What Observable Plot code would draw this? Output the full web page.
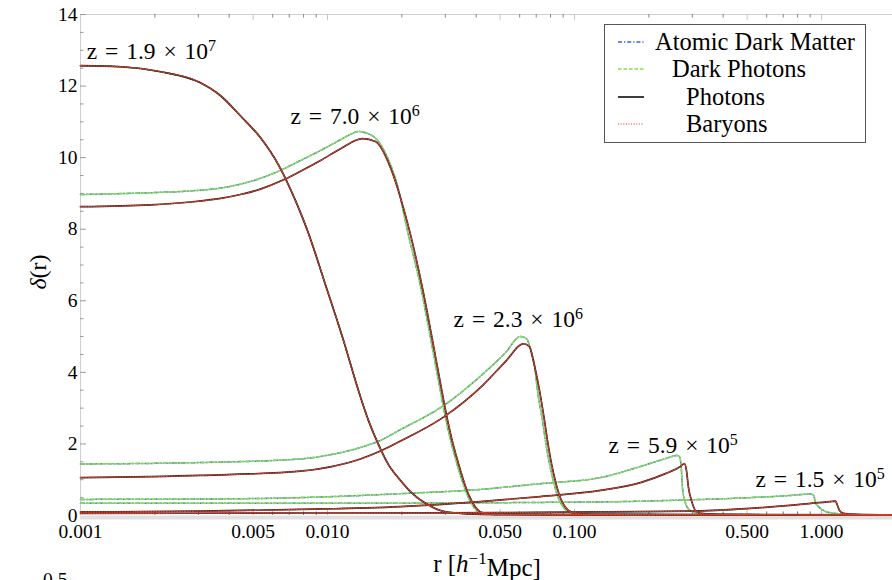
<!DOCTYPE html>
<html>
<head>
<meta charset="utf-8">
<script src="https://cdn.jsdelivr.net/npm/d3@7"></script>
<script src="https://cdn.jsdelivr.net/npm/@observablehq/plot@0.6"></script>
<style>
  html, body { margin: 0; padding: 0; background: #fff; }
  body { width: 892px; height: 580px; overflow: hidden; position: relative; font-family: "Liberation Serif", "DejaVu Serif", serif; }
  #chart { position: absolute; left: 0; top: 0; }
  #legend { position: absolute; left: 604px; top: 24px; width: 260px; height: 117px; border: 1px solid #555; background: #fff; }
  #legend .item { position: absolute; font-size: 24.5px; line-height: 1; white-space: nowrap; color: #000; }
  #legend svg { position: absolute; left: 13px; }
  #next-panel { position: absolute; left: 43px; top: 570px; font-size: 19.5px; line-height: 1; }
</style>
</head>
<body>
<div id="chart"></div>
<div id="legend"></div>
<div id="next-panel">0.5</div>
<script>
// Density contrast profiles δ(r) at five redshifts.
const redshifts = ["1.9 × 10^7", "7.0 × 10^6", "2.3 × 10^6", "5.9 × 10^5", "1.5 × 10^5"];

// z = 1.9e7: dark and baryonic sectors coincide
const r_z1 = [0.001, 0.00145, 0.00211, 0.00306, 0.00369, 0.00444, 0.00535, 0.00633, 0.00742, 0.0083, 0.00981, 0.01161, 0.01335, 0.01466, 0.01609, 0.01766, 0.01975, 0.02209, 0.02494, 0.02868, 0.03456, 0.0457, 0.158];
const d_z1 = [12.57, 12.54, 12.40, 12.09, 11.73, 11.17, 10.56, 9.80, 8.80, 7.96, 6.45, 4.89, 3.49, 2.65, 1.98, 1.42, 0.98, 0.61, 0.34, 0.14, 0.06, 0.03, 0.015];

// z = 7.0e6
const r_z2_dark = [0.001, 0.00192, 0.00279, 0.00369, 0.00444, 0.00535, 0.00633, 0.00778, 0.00937, 0.01129, 0.01239, 0.01335, 0.01521, 0.0175, 0.0192, 0.02108, 0.02402, 0.02612, 0.02814, 0.02976, 0.03118, 0.03298, 0.03487, 0.03688, 0.039, 0.04164, 0.04656, 0.5016];
const d_z2_dark = [8.97, 9.02, 9.07, 9.15, 9.26, 9.42, 9.62, 9.92, 10.2, 10.5, 10.65, 10.73, 10.61, 10.0, 9.22, 7.96, 6.28, 4.97, 3.77, 2.88, 2.23, 1.59, 1.03, 0.56, 0.25, 0.08, 0.03, 0.015];
const r_z2_bar = [0.001, 0.00192, 0.00279, 0.00369, 0.00444, 0.00535, 0.00664, 0.00778, 0.00937, 0.01129, 0.01386, 0.01564, 0.01799, 0.01975, 0.02148, 0.02436, 0.02649, 0.02853, 0.03018, 0.03162, 0.03344, 0.03536, 0.0374, 0.03955, 0.04222, 0.04721, 0.5016];
const d_z2_bar = [8.63, 8.68, 8.76, 8.86, 8.97, 9.12, 9.38, 9.62, 9.92, 10.25, 10.53, 10.45, 9.72, 8.88, 7.96, 6.28, 4.97, 3.77, 2.88, 2.23, 1.59, 1.03, 0.56, 0.25, 0.08, 0.03, 0.015];

// z = 2.3e6
const r_z3_dark = [0.001, 0.00306, 0.00778, 0.01028, 0.0136, 0.01639, 0.01975, 0.02949, 0.04282, 0.05255, 0.06045, 0.0639, 0.0666, 0.0689, 0.07083, 0.0742, 0.0763, 0.0792, 0.0822, 0.08533, 0.0886, 0.0928, 0.0991, 0.1161, 1.939];
const d_z3_dark = [1.44, 1.48, 1.58, 1.70, 1.90, 2.10, 2.40, 3.07, 3.97, 4.55, 5.0, 4.94, 4.61, 4.19, 3.49, 2.65, 2.09, 1.45, 0.95, 0.56, 0.31, 0.14, 0.06, 0.03, 0.015];
const r_z3_bar = [0.001, 0.00306, 0.00778, 0.01028, 0.0136, 0.01639, 0.01975, 0.02949, 0.04282, 0.05255, 0.06216, 0.06573, 0.0681, 0.07218, 0.07561, 0.07775, 0.0807, 0.08376, 0.08695, 0.09028, 0.09456, 0.101, 0.1183, 1.939];
const d_z3_bar = [1.06, 1.12, 1.24, 1.36, 1.58, 1.80, 2.08, 2.75, 3.66, 4.30, 4.80, 4.72, 4.33, 3.49, 2.65, 2.09, 1.45, 0.95, 0.56, 0.31, 0.14, 0.06, 0.03, 0.015];

// z = 5.9e5
const r_z4_dark = [0.001, 0.00306, 0.00778, 0.01975, 0.04164, 0.0728, 0.1274, 0.185, 0.2336, 0.2612, 0.2661, 0.2711, 0.2736, 0.2788, 0.2867, 0.3004, 0.3236, 0.390, 1.939];
const d_z4_dark = [0.45, 0.46, 0.50, 0.61, 0.73, 0.89, 1.06, 1.37, 1.59, 1.68, 1.65, 1.26, 0.78, 0.45, 0.22, 0.11, 0.06, 0.03, 0.015];
const r_z4_bar = [0.001, 0.00306, 0.00778, 0.01975, 0.04164, 0.0728, 0.1274, 0.185, 0.2336, 0.2686, 0.2788, 0.284, 0.2894, 0.2976, 0.309, 0.3236, 0.390, 1.939];
const d_z4_bar = [0.10, 0.12, 0.17, 0.25, 0.39, 0.53, 0.70, 0.92, 1.17, 1.37, 1.45, 1.26, 0.78, 0.42, 0.14, 0.06, 0.03, 0.015];

// z = 1.5e5
const r_z5_dark = [0.001, 0.00778, 0.1274, 0.2686, 0.516, 0.749, 0.903, 0.928, 0.946, 0.972, 1.019, 1.108, 1.310, 1.939];
const d_z5_dark = [0.34, 0.34, 0.38, 0.43, 0.50, 0.56, 0.60, 0.57, 0.36, 0.25, 0.14, 0.07, 0.03, 0.015];
const r_z5_bar = [0.001, 0.00778, 0.05016, 0.1274, 0.2949, 0.516, 0.822, 1.0875, 1.1395, 1.161, 1.183, 1.228, 1.373, 1.939];
const d_z5_bar = [0.056, 0.07, 0.08, 0.10, 0.12, 0.20, 0.31, 0.39, 0.40, 0.28, 0.14, 0.06, 0.03, 0.015];

// Redshift annotations, anchored at the left end of each label
const labelR = [0.00106, 0.00708, 0.0324, 0.1373, 0.5405];
const labelDelta = [12.96, 11.16, 5.49, 1.97, 1.02];

// Axis ticks
const xMajor = [0.001, 0.005, 0.01, 0.05, 0.1, 0.5, 1];
const xMajorText = ["0.001", "0.005", "0.010", "0.050", "0.100", "0.500", "1.000"];
const xMinor = [0.002, 0.003, 0.004, 0.006, 0.007, 0.008, 0.009,
                0.02, 0.03, 0.04, 0.06, 0.07, 0.08, 0.09,
                0.2, 0.3, 0.4, 0.6, 0.7, 0.8, 0.9];
const yMajor = [0, 2, 4, 6, 8, 10, 12, 14];
const yMinor = d3.range(0.5, 14, 0.5).filter(v => v % 2 !== 0);

const species = [
  {name: "Atomic Dark Matter", sector: "dark", stroke: "#3f5cf2", dash: "4,2,1.2,2", width: 1.5},
  {name: "Dark Photons", sector: "dark", stroke: "#82e04a", dash: "3.5,2", width: 1.5},
  {name: "Photons", sector: "baryon", stroke: "#1a1a1a", dash: null, width: 1.7},
  {name: "Baryons", sector: "baryon", stroke: "#e8402a", dash: "1.1,1.5", width: 1.2}
];

const darkProfiles = [[r_z1, d_z1], [r_z2_dark, d_z2_dark], [r_z3_dark, d_z3_dark], [r_z4_dark, d_z4_dark], [r_z5_dark, d_z5_dark]];
const baryonProfiles = [[r_z1, d_z1], [r_z2_bar, d_z2_bar], [r_z3_bar, d_z3_bar], [r_z4_bar, d_z4_bar], [r_z5_bar, d_z5_bar]];

function toRows(profiles) {
  const rows = [];
  profiles.forEach(([rs, ds], i) => rs.forEach((r, j) => rows.push({z: redshifts[i], r, delta: ds[j]})));
  return rows;
}
const rowsBySector = {dark: toRows(darkProfiles), baryon: toRows(baryonProfiles)};

const labels = redshifts.map((z, i) => ({text: "z = " + z, r: labelR[i], delta: labelDelta[i]}));

// tick lengths expressed in data units of each scale
const xTickMajor = Math.pow(10, 6 / 247), xTickMinor = Math.pow(10, 3.5 / 247); // log factor along r
const xMin = 0.001, xMax = 1.939;

const chart = Plot.plot({
  width: 892,
  height: 580,
  marginLeft: 80,
  marginRight: 0,
  marginTop: 14,
  marginBottom: 65,
  x: {type: "log", domain: [xMin, xMax], axis: null},
  y: {domain: [0, 14], axis: null},
  style: {fontFamily: "Liberation Serif, serif", background: "#fff", color: "#000"},
  marks: [
    // frame
    Plot.ruleY([0], {stroke: "#e0e0e0", strokeWidth: 4, dy: 2}),
    Plot.ruleY([14], {stroke: "#cfcfcf", strokeWidth: 1}),
    Plot.ruleX([xMin], {stroke: "#cfcfcf", strokeWidth: 1}),
    // x ticks (bottom, pointing up; top, pointing down)
    Plot.ruleX(xMajor.slice(1), {x: d => d, y1: 0, y2: 0.17, stroke: "#bbb"}),
    Plot.ruleX(xMinor, {x: d => d, y1: 0, y2: 0.1, stroke: "#777"}),
    Plot.ruleX(xMajor.slice(1), {x: d => d, y1: 14, y2: 14 - 0.17, stroke: "#c8c8c8"}),
    Plot.ruleX(xMinor, {x: d => d, y1: 14, y2: 14 - 0.1, stroke: "#888"}),
    // y ticks (left, pointing right)
    Plot.ruleY(yMajor.slice(1), {y: d => d, x1: xMin, x2: xMin * xTickMajor, stroke: "#999"}),
    Plot.ruleY(yMinor, {y: d => d, x1: xMin, x2: xMin * xTickMinor, stroke: "#999"}),
    // tick labels
    Plot.text(xMajor, {x: d => d, y: 0, dy: 16, text: (d, i) => xMajorText[i], fontSize: 19.5, fill: "#000"}),
    Plot.text(yMajor, {x: xMin, y: d => d, dx: -3, text: d => String(d), textAnchor: "end", fontSize: 19.5, fill: "#000"}),
    // profiles
    ...species.map(s => Plot.line(rowsBySector[s.sector], {
      x: "r", y: "delta", z: "z",
      stroke: s.stroke, strokeWidth: s.width,
      strokeDasharray: s.dash || undefined,
      curve: "monotone-x"
    })),
    // redshift annotations
    Plot.text(labels, {x: "r", y: "delta", text: "text", textAnchor: "start", fontSize: 23.5, fill: "#000"})
  ]
});

// superscripts for "10^n"; wider word spacing in the annotations
chart.querySelectorAll("text").forEach(t => {
  const s = t.textContent;
  if (s.includes("^")) {
    const [base, exp] = s.split("^");
    t.textContent = base;
    t.setAttribute("word-spacing", "2");
    const sup = document.createElementNS("http://www.w3.org/2000/svg", "tspan");
    sup.setAttribute("dy", "-0.5em");
    sup.setAttribute("font-size", "0.68em");
    sup.textContent = exp;
    t.appendChild(sup);
  }
});

// axis titles
const svg = d3.select(chart);
const xTitle = svg.append("text")
  .attr("x", 487).attr("y", 572)
  .attr("text-anchor", "middle")
  .attr("font-size", 25)
  .attr("fill", "#000");
xTitle.append("tspan").text("r [");
xTitle.append("tspan").attr("font-style", "italic").text("h");
xTitle.append("tspan").attr("dy", "-0.5em").attr("font-size", "0.68em").text("−1");
xTitle.append("tspan").attr("dy", "0.5em").text("Mpc]");

const yTitle = svg.append("text")
  .attr("transform", "translate(46,272) rotate(-90)")
  .attr("text-anchor", "middle")
  .attr("font-size", 24)
  .attr("fill", "#000");
yTitle.append("tspan").attr("font-style", "italic").text("δ");
yTitle.append("tspan").text("(r)");

document.getElementById("chart").appendChild(chart);

// legend
const legend = d3.select("#legend");
const rowY = [17, 44, 72, 99];
const textX = [50, 67, 81, 81];
species.forEach((s, i) => {
  const sample = legend.append("svg")
    .attr("width", 26).attr("height", 6)
    .style("top", (rowY[i] - 3) + "px");
  sample.append("line")
    .attr("x1", 0).attr("x2", 26).attr("y1", 3).attr("y2", 3)
    .attr("stroke", s.stroke).attr("stroke-width", s.width)
    .attr("stroke-dasharray", s.dash);
  legend.append("div").attr("class", "item")
    .style("left", textX[i] + "px")
    .style("top", (rowY[i] - 12) + "px")
    .text(s.name);
});
</script>
</body>
</html>
